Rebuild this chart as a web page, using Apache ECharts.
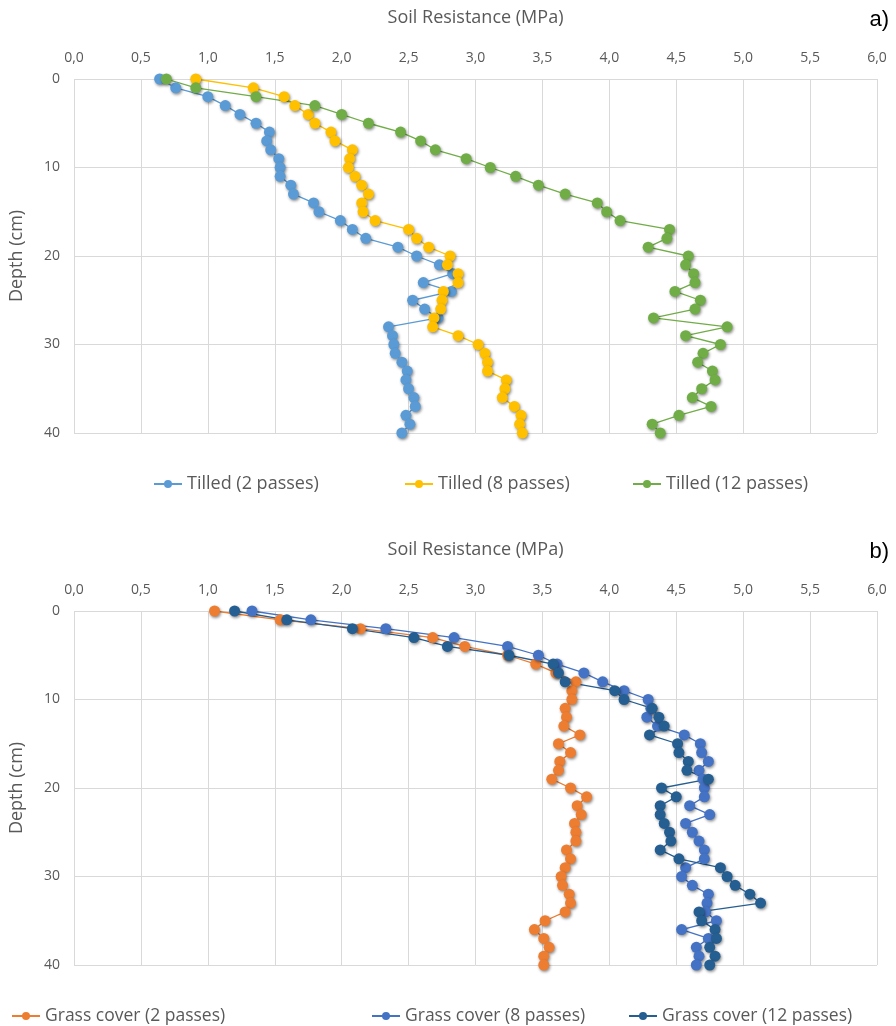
<!DOCTYPE html>
<html>
<head>
<meta charset="utf-8">
<script src="https://cdn.jsdelivr.net/npm/echarts@6/dist/echarts.min.js"></script>
<style>
  html, body { margin: 0; padding: 0; background: #fff; }
  #chart { width: 896px; height: 1026px; }
</style>
</head>
<body>
<div id="chart"></div>
<script>
// depth (cm) of each reading
const depths = [0, 1, 2, 3, 4, 5, 6, 7, 8, 9, 10, 11, 12, 13, 14, 15, 16, 17, 18, 19, 20,
  21, 22, 23, 24, 25, 26, 27, 28, 29, 30, 31, 32, 33, 34, 35, 36, 37, 38, 39, 40]

const xTicks = [0, 0.5, 1, 1.5, 2, 2.5, 3, 3.5, 4, 4.5, 5, 5.5, 6]
const yTicks = [0, 10, 20, 30, 40]

// a) tilled soil, resistance in MPa
const tilled2 = [0.64, 0.76, 1.00, 1.13, 1.24, 1.36, 1.46, 1.44, 1.47, 1.53, 1.54, 1.54, 1.62, 1.64,
  1.79, 1.83, 1.99, 2.08, 2.18, 2.42, 2.56, 2.73, 2.83, 2.61, 2.82, 2.53, 2.62, 2.72, 2.35, 2.38,
  2.39, 2.40, 2.45, 2.49, 2.48, 2.50, 2.54, 2.55, 2.48, 2.51, 2.45]
const tilled8 = [0.91, 1.34, 1.57, 1.65, 1.75, 1.80, 1.92, 1.95, 2.08, 2.06, 2.05, 2.10, 2.15, 2.20,
  2.15, 2.16, 2.25, 2.50, 2.56, 2.65, 2.81, 2.79, 2.87, 2.87, 2.76, 2.75, 2.74, 2.69, 2.68, 2.87,
  3.02, 3.07, 3.09, 3.09, 3.23, 3.22, 3.20, 3.29, 3.34, 3.33, 3.35]
const tilled12 = [0.69, 0.91, 1.36, 1.80, 2.00, 2.20, 2.44, 2.59, 2.70, 2.93, 3.11, 3.30, 3.47, 3.67,
  3.91, 3.98, 4.08, 4.45, 4.43, 4.29, 4.59, 4.57, 4.63, 4.64, 4.49, 4.68, 4.64, 4.33, 4.88, 4.57,
  4.83, 4.70, 4.66, 4.77, 4.79, 4.69, 4.62, 4.76, 4.52, 4.32, 4.38]

// b) grass cover, resistance in MPa
const grass2 = [1.05, 1.54, 2.14, 2.68, 2.92, 3.24, 3.45, 3.60, 3.75, 3.72, 3.72, 3.67, 3.68, 3.66,
  3.78, 3.62, 3.71, 3.63, 3.62, 3.57, 3.71, 3.83, 3.76, 3.79, 3.74, 3.75, 3.75, 3.68, 3.71, 3.67,
  3.64, 3.65, 3.70, 3.71, 3.67, 3.52, 3.44, 3.51, 3.55, 3.51, 3.51]
const grass8 = [1.33, 1.77, 2.33, 2.84, 3.24, 3.47, 3.61, 3.81, 3.95, 4.11, 4.29, 4.31, 4.28, 4.36,
  4.56, 4.68, 4.69, 4.74, 4.67, 4.70, 4.71, 4.71, 4.60, 4.75, 4.57, 4.62, 4.67, 4.71, 4.71, 4.57,
  4.54, 4.62, 4.74, 4.73, 4.72, 4.80, 4.54, 4.74, 4.65, 4.67, 4.65]
const grass12 = [1.20, 1.59, 2.08, 2.54, 2.79, 3.25, 3.58, 3.62, 3.67, 4.04, 4.11, 4.32, 4.37, 4.41,
  4.30, 4.51, 4.52, 4.59, 4.58, 4.74, 4.39, 4.50, 4.38, 4.38, 4.41, 4.45, 4.46, 4.38, 4.52, 4.83,
  4.88, 4.94, 5.05, 5.13, 4.67, 4.69, 4.79, 4.80, 4.75, 4.79, 4.75]

const gray = '#595959'
const gridColor = '#d9d9d9'
const font = 'Open Sans'

const chart = echarts.init(document.getElementById('chart'))

const pairs = (vals) => vals.map((v, i) => [v, depths[i]])

const makeX = (gridIndex) => ({
  gridIndex,
  type: 'value',
  position: 'top',
  min: xTicks[0],
  max: xTicks[xTicks.length - 1],
  interval: 0.5,
  name: 'Soil Resistance (MPa)',
  nameLocation: 'middle',
  nameGap: 52,
  nameTextStyle: { color: gray, fontSize: 18, fontFamily: font },
  axisLine: { show: false },
  axisTick: { show: false },
  axisLabel: {
    color: gray, fontSize: 14, fontFamily: font, margin: 14,
    formatter: (v) => v.toFixed(1).replace('.', ',')
  },
  splitLine: { lineStyle: { color: gridColor, width: 1 } }
})

const makeY = (gridIndex) => ({
  gridIndex,
  type: 'value',
  inverse: true,
  min: yTicks[0],
  max: yTicks[yTicks.length - 1],
  interval: 10,
  name: 'Depth (cm)',
  nameLocation: 'middle',
  nameGap: 48,
  nameRotate: 90,
  nameTextStyle: { color: gray, fontSize: 18, fontFamily: font },
  axisLine: { show: false },
  axisTick: { show: false },
  axisLabel: { color: gray, fontSize: 14, fontFamily: font, margin: 14 },
  splitLine: { lineStyle: { color: gridColor, width: 1 } }
})

const makeSeries = (name, vals, color, idx) => ({
  name,
  type: 'line',
  xAxisIndex: idx,
  yAxisIndex: idx,
  data: pairs(vals),
  symbol: 'circle',
  symbolSize: 11,
  showAllSymbol: true,
  lineStyle: { color, width: 1.3 },
  itemStyle: {
    color,
    shadowBlur: 3,
    shadowColor: 'rgba(0,0,0,0.45)',
    shadowOffsetX: 1,
    shadowOffsetY: 1.5
  },
  animation: false
})

const legendItem = (name, left, top, size) => ({
  data: [name],
  left,
  top,
  itemWidth: 28,
  itemHeight: 10,
  itemGap: 0,
  textStyle: { color: gray, fontSize: size, fontFamily: font },
  selectedMode: false
})

const option = {
  backgroundColor: '#fff',
  animation: false,
  title: [
    { text: 'a)', right: 2, top: 4, textStyle: { color: '#000', fontSize: 22, fontWeight: 'normal', fontFamily: 'Liberation Sans' } },
    { text: 'b)', right: 2, top: 536, textStyle: { color: '#000', fontSize: 22, fontWeight: 'normal', fontFamily: 'Liberation Sans' } }
  ],
  grid: [
    { left: 74, right: 19, top: 79, height: 354 },
    { left: 74, right: 19, top: 611, height: 354 }
  ],
  xAxis: [makeX(0), makeX(1)],
  yAxis: [makeY(0), makeY(1)],
  legend: [
    legendItem('Tilled (2 passes)', 148, 470, 18),
    legendItem('Tilled (8 passes)', 399, 470, 18),
    legendItem('Tilled (12 passes)', 627, 470, 18),
    legendItem('Grass cover (2 passes)', 6, 1002, 17.5),
    legendItem('Grass cover (8 passes)', 366, 1002, 17.5),
    legendItem('Grass cover (12 passes)', 623, 1002, 17.5)
  ],
  series: [
    makeSeries('Tilled (2 passes)', tilled2, '#5b9bd5', 0),
    makeSeries('Tilled (8 passes)', tilled8, '#ffc000', 0),
    makeSeries('Tilled (12 passes)', tilled12, '#70ad47', 0),
    makeSeries('Grass cover (2 passes)', grass2, '#ed7d31', 1),
    makeSeries('Grass cover (8 passes)', grass8, '#4472c4', 1),
    makeSeries('Grass cover (12 passes)', grass12, '#255e91', 1)
  ]
}

chart.setOption(option)
</script>
</body>
</html>
